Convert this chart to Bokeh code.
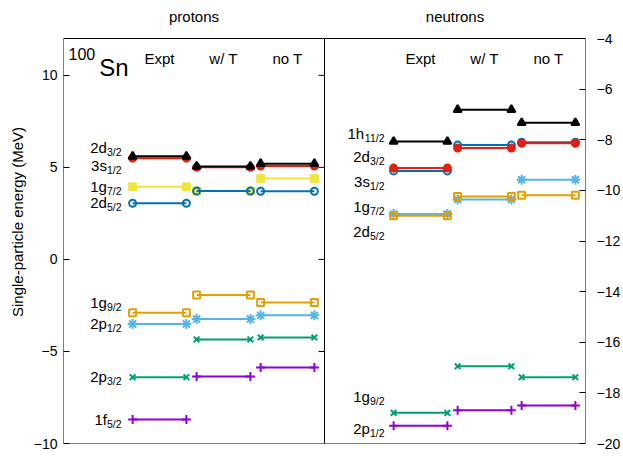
from bokeh.plotting import figure
from bokeh.models import Range1d, LinearAxis, FixedTicker, ColumnDataSource
from bokeh.core.properties import value
from bokeh.embed import file_html
from bokeh.resources import INLINE

# ---------------- data ----------------
methods = ["Expt", "w/ T", "no T"]

# protons (MeV), columns: Expt, w/ T, no T
p_1f52 = [-8.70, -6.36, -5.87]   # purple
p_2p32 = [-6.40, -4.35, -4.24]   # green
p_2p12 = [-3.51, -3.24, -3.04]   # light blue
p_1g92 = [-2.90, -1.94, -2.34]   # orange
p_1g72 = [3.95, 3.72, 4.40]      # yellow
p_2d52 = [3.05, 3.71, 3.70]      # blue
p_3s12 = [5.50, 5.00, 5.07]      # red
p_2d32 = [5.60, 5.05, 5.20]      # black

# neutrons (MeV)
n_2p12 = [-19.30, -18.69, -18.50]  # purple
n_1g92 = [-18.79, -16.95, -17.38]  # green
n_1g72 = [-10.93, -10.36, -9.58]   # light blue
n_2d52 = [-11.00, -10.24, -10.19]  # orange
n_3s12 = [-9.23, -8.21, -8.10]     # blue
n_2d32 = [-9.12, -8.33, -8.14]     # red
n_1h112 = [-8.07, -6.81, -7.33]    # black

p_label_main = ["2d", "3s", "1g", "2d", "1g", "2p", "2p", "1f"]
p_label_sub = ["3/2", "1/2", "7/2", "5/2", "9/2", "1/2", "3/2", "5/2"]
p_label_y = [6.10, 5.10, 3.96, 3.09, -2.34, -3.48, -6.36, -8.70]

n_label_main = ["1h", "2d", "3s", "1g", "2d", "1g", "2p"]
n_label_sub = ["11/2", "3/2", "1/2", "7/2", "5/2", "9/2", "1/2"]
n_label_y = [-7.75, -8.66, -9.65, -10.64, -11.62, -18.14, -19.41]

left_ticks = [-10, -5, 0, 5, 10]
right_ticks = [-20, -18, -16, -14, -12, -10, -8, -6, -4]
left_lim = (-10, 12)
right_lim = (-20, -4)

# ---------------- layout constants ----------------
PANEL_W = 4.078
COL_CENTERS = [1.5, 2.5, 3.5]
HALF = 0.42
FONT = value("Liberation Sans")
FRAME_H = 405.0      # px of plotting box
TOP_PAD = 38.0       # px of title strip above the box

lpx = FRAME_H / (left_lim[1] - left_lim[0])
rpx = FRAME_H / (right_lim[1] - right_lim[0])

styles = {
    "purple": dict(color="#9400d3", marker="cross", size=9, fill=True, lw=2),
    "green": dict(color="#009e73", marker="x", size=8, fill=True, lw=2),
    "lightblue": dict(color="#56b4e9", marker="asterisk", size=10, fill=True, lw=2),
    "orange": dict(color="#e69f00", marker="square", size=7, fill=False, lw=2),
    "yellow": dict(color="#f0e442", marker="square", size=7, fill=True, lw=2),
    "blue": dict(color="#0072b2", marker="circle", size=7, fill=False, lw=2),
    "red": dict(color="#e51e10", marker="circle", size=7, fill=True, lw=2),
    "black": dict(color="#000000", marker="triangle", size=8, fill=True, lw=2),
}

p = figure(width=623, height=467, output_backend="svg", toolbar_location=None,
           x_range=Range1d(0, 2 * PANEL_W),
           y_range=Range1d(left_lim[0], left_lim[1] + TOP_PAD / lpx),
           x_axis_location=None, min_border_left=63, min_border_right=38,
           min_border_top=0, min_border_bottom=24)
p.extra_y_ranges = {"right": Range1d(right_lim[0], right_lim[1] + TOP_PAD / rpx)}
p.grid.visible = False
p.outline_line_color = None
p.background_fill_color = "white"
p.border_fill_color = "white"

ya = p.yaxis[0]
ya.ticker = FixedTicker(ticks=left_ticks)
ya.axis_label = "Single-particle energy (MeV)"
ya.axis_label_text_font = "Liberation Sans"
ya.axis_label_text_font_style = "normal"
ya.axis_label_text_font_size = "15px"
ya.axis_label_text_color = "black"
ya.axis_label_standoff = 5
ya.major_label_text_font = "Liberation Sans"
ya.major_label_text_font_size = "14px"
ya.major_label_text_color = "black"
ya.major_label_standoff = 6
ya.major_tick_in = 6
ya.major_tick_out = 0
ya.minor_tick_in = 0
ya.minor_tick_out = 0
ya.axis_line_color = None
ya.major_tick_line_color = "black"

ra = LinearAxis(y_range_name="right", ticker=FixedTicker(ticks=right_ticks))
ra.major_label_text_font = "Liberation Sans"
ra.major_label_text_font_size = "14px"
ra.major_label_text_color = "black"
ra.major_label_standoff = 11
ra.major_tick_in = 6
ra.major_tick_out = 0
ra.minor_tick_in = 0
ra.minor_tick_out = 0
ra.axis_line_color = None
ra.major_tick_line_color = "black"
p.add_layout(ra, "right")

# plotting box and panel divider
p.quad(left=[0], right=[2 * PANEL_W], bottom=[left_lim[0]], top=[left_lim[1]],
       fill_color=None, line_color="black", line_width=1)
p.segment(x0=[PANEL_W], y0=[left_lim[0]], x1=[PANEL_W], y1=[left_lim[1]],
          line_color="black", line_width=1)

# mirrored ticks of the left axis on the divider
mt = ColumnDataSource(dict(x0=[PANEL_W - 6 / 64] * 4, x1=[PANEL_W] * 4, y=[-5, 0, 5, 10]))
p.segment(x0="x0", y0="y", x1="x1", y1="y", source=mt, line_color="black", line_width=1)


def draw(offset, vals, style, rng):
    st = styles[style]
    xc = [offset + c for c in COL_CENTERS]
    src = ColumnDataSource(dict(x0=[x - HALF for x in xc], x1=[x + HALF for x in xc], y=vals))
    p.segment(x0="x0", y0="y", x1="x1", y1="y", source=src, line_color=st["color"],
              line_width=2, y_range_name=rng)
    for col in ("x0", "x1"):
        p.scatter(x=col, y="y", source=src, marker=st["marker"], size=st["size"],
                  line_color=st["color"], line_width=st["lw"],
                  fill_color=st["color"] if st["fill"] else None, y_range_name=rng)


for vals, st in [(p_1f52, "purple"), (p_2p32, "green"), (p_2p12, "lightblue"),
                 (p_1g92, "orange"), (p_1g72, "yellow"), (p_2d52, "blue"),
                 (p_3s12, "red"), (p_2d32, "black")]:
    draw(0.0, vals, st, "default")

for vals, st in [(n_2p12, "purple"), (n_1g92, "green"), (n_1g72, "lightblue"),
                 (n_2d52, "orange"), (n_3s12, "blue"), (n_2d32, "red"),
                 (n_1h112, "black")]:
    draw(PANEL_W, vals, st, "right")

# orbital labels with subscripts
CW = {"/": 0.278}
SUB_SIZE = 10.5


def sub_width(s):
    return sum(CW.get(c, 0.556) for c in s) * SUB_SIZE


def labels(xend, mains, subs, ys, rng):
    src = ColumnDataSource(dict(x=[xend] * len(mains), y=ys, main=mains, sub=subs,
                                xoff=[-sub_width(s) for s in subs]))
    p.text(x="x", y="y", text="main", x_offset="xoff", source=src, text_align="right",
           text_baseline="middle", text_font=FONT, text_font_size="15px",
           text_color="black", y_range_name=rng)
    p.text(x="x", y="y", text="sub", y_offset=4.5, source=src, text_align="right",
           text_baseline="middle", text_font=FONT, text_font_size=f"{SUB_SIZE}px",
           text_color="black", y_range_name=rng)


labels(0.906, p_label_main, p_label_sub, p_label_y, "default")
labels(PANEL_W + 0.9375, n_label_main, n_label_sub, n_label_y, "right")

# column headers
hdr = ColumnDataSource(dict(
    x=[c for c in COL_CENTERS] + [PANEL_W + c for c in COL_CENTERS],
    y=[10.92] * 6, t=methods + methods))
p.text(x="x", y="y", text="t", source=hdr, text_align="center", text_baseline="middle",
       text_font=FONT, text_font_size="15px", text_color="black")

# nucleus label
p.text(x=[0.078], y=[11.14], text=["100"], text_align="left", text_baseline="alphabetic",
       text_font=FONT, text_font_size="16px", text_color="black")
p.text(x=[0.56], y=[10.45], text=["Sn"], text_align="left", text_baseline="alphabetic",
       text_font=FONT, text_font_size="24px", text_color="black")

# panel titles
p.text(x=[PANEL_W / 2, 1.5 * PANEL_W], y=[13.22, 13.22], text=["protons", "neutrons"],
       text_align="center", text_baseline="middle", text_font=FONT,
       text_font_size="15px", text_color="black")

open("out.html", "w").write(file_html(p, INLINE))
